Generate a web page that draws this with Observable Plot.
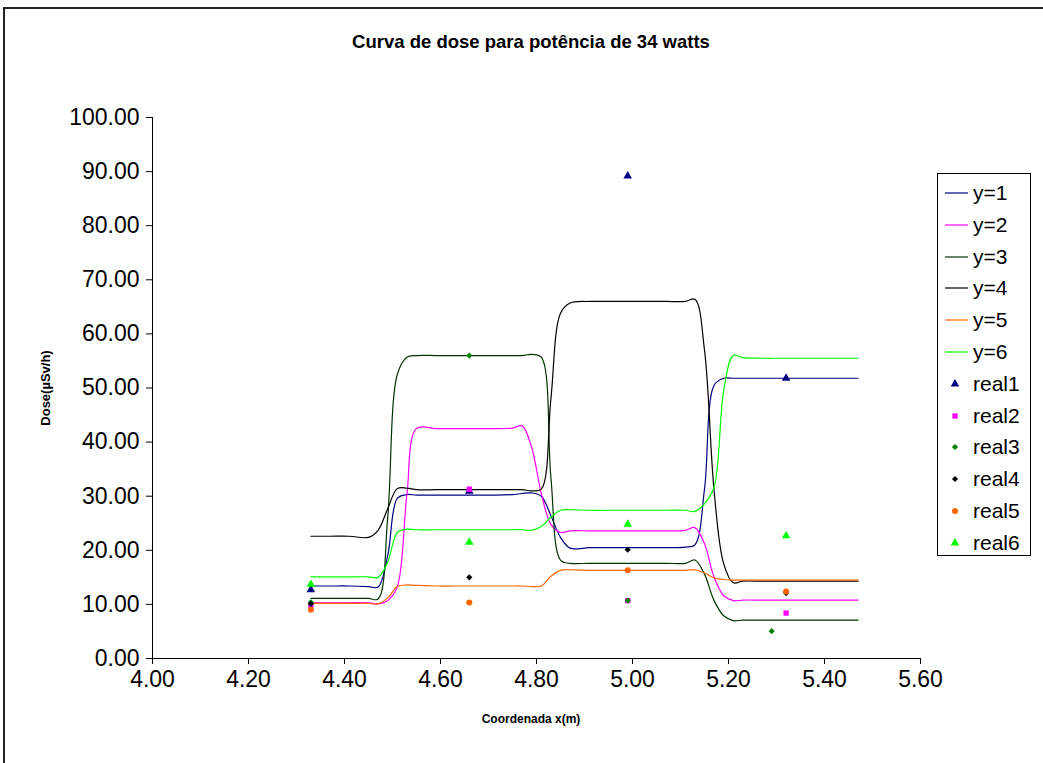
<!DOCTYPE html>
<html>
<head>
<meta charset="utf-8">
<script src="https://cdn.jsdelivr.net/npm/d3@7"></script>
<script src="https://cdn.jsdelivr.net/npm/@observablehq/plot@0.6"></script>
<style>
  html, body { margin: 0; padding: 0; background: #fff; }
  #wrap { position: relative; width: 1043px; height: 763px; overflow: hidden; background: #fff; font-family: "Liberation Sans", Arial, sans-serif; }
  #frame { position: absolute; left: 3px; top: 7px; width: 1200px; height: 900px; border: 2px solid #222; box-sizing: border-box; }
  #chart { position: absolute; left: 0; top: 0; }
  .title { position: absolute; left: 0; width: 1062px; top: 31px; text-align: center; font-weight: bold; font-size: 18.5px; color: #000; }
  .xlabel { position: absolute; left: 0; width: 1062px; top: 712px; text-align: center; font-weight: bold; font-size: 12px; color: #000; }
  .ylabel { position: absolute; left: 45px; top: 388px; transform: translate(-50%, -50%) rotate(-90deg); font-weight: bold; font-size: 13px; white-space: nowrap; color: #000; }
  #legend { position: absolute; left: 937px; top: 173px; width: 94px; height: 383px; border: 1px solid #000; box-sizing: border-box; background: #fff; }
  .lrow { position: absolute; left: 0; height: 24px; display: flex; align-items: center; }
  .lrow span { font-size: 21px; color: #000; margin-left: 4px; }
</style>
</head>
<body>
<div id="wrap">
  <div id="frame"></div>
  <div id="chart"></div>
  <div class="title">Curva de dose para potência de 34 watts</div>
  <div class="xlabel">Coordenada x(m)</div>
  <div class="ylabel">Dose(µSv/h)</div>
  <div id="legend"></div>
</div>
<script>
// ---- data ----
const xTicks = [4.0, 4.2, 4.4, 4.6, 4.8, 5.0, 5.2, 5.4, 5.6];
const yTicks = [0, 10, 20, 30, 40, 50, 60, 70, 80, 90, 100];

const xs = [4.33, 4.37, 4.41, 4.45, 4.47, 4.49, 4.51, 4.53, 4.55, 4.59, 4.63, 4.67, 4.71, 4.75,
            4.77, 4.79, 4.81, 4.83, 4.85, 4.87, 4.91, 4.95, 4.99, 5.03, 5.07, 5.11,
            5.13, 5.15, 5.17, 5.19, 5.21, 5.23, 5.27, 5.31, 5.35, 5.39, 5.43, 5.47];

const y1 = [13.4, 13.4, 13.4, 13.3, 13.2, 19.0, 29.6, 30.3, 30.2, 30.2, 30.2, 30.2, 30.2, 30.3,
            30.5, 30.6, 30.0, 26.4, 22.4, 20.4, 20.5, 20.5, 20.5, 20.5, 20.5, 20.6,
            21.0, 31.3, 50.5, 51.8, 51.8, 51.8, 51.8, 51.8, 51.8, 51.8, 51.8, 51.8];
const y2 = [10.3, 10.3, 10.3, 10.3, 10.1, 10.7, 13.3, 30.3, 42.5, 42.5, 42.5, 42.5, 42.5, 42.6,
            43.0, 39.0, 30.5, 24.8, 23.3, 23.6, 23.6, 23.6, 23.6, 23.6, 23.6, 23.7,
            24.2, 21.2, 15.0, 11.6, 10.7, 10.8, 10.8, 10.8, 10.8, 10.8, 10.8, 10.8];
const y3 = [11.1, 11.1, 11.1, 11.1, 11.0, 26.0, 52.5, 55.7, 56.0, 56.0, 56.0, 56.0, 56.0, 56.0,
            56.0, 56.2, 55.7, 33.5, 18.2, 17.6, 17.6, 17.6, 17.6, 17.6, 17.6, 17.6,
            18.2, 15.6, 10.7, 7.9, 7.0, 7.1, 7.1, 7.1, 7.1, 7.1, 7.1, 7.1];
const y4 = [22.6, 22.6, 22.6, 22.4, 23.7, 27.7, 31.4, 31.5, 31.2, 31.2, 31.2, 31.2, 31.2, 31.2,
            31.2, 31.0, 31.3, 48.0, 63.8, 65.7, 66.0, 66.0, 66.0, 66.0, 66.0, 66.0,
            66.4, 57.0, 31.0, 17.5, 14.0, 14.3, 14.3, 14.3, 14.3, 14.3, 14.3, 14.3];
const y5 = [10.2, 10.2, 10.2, 10.2, 10.1, 11.2, 13.3, 13.6, 13.5, 13.4, 13.4, 13.4, 13.4, 13.4,
            13.4, 13.3, 13.4, 15.2, 16.3, 16.4, 16.3, 16.3, 16.3, 16.3, 16.3, 16.3,
            16.4, 15.8, 14.9, 14.6, 14.5, 14.5, 14.5, 14.5, 14.5, 14.5, 14.5, 14.5];
const y6 = [15.1, 15.1, 15.1, 15.1, 15.0, 17.8, 23.3, 23.9, 23.8, 23.8, 23.8, 23.8, 23.8, 23.8,
            23.8, 23.7, 24.4, 26.1, 27.4, 27.5, 27.4, 27.4, 27.4, 27.4, 27.4, 27.4,
            27.2, 28.6, 31.7, 49.5, 56.0, 55.6, 55.5, 55.5, 55.5, 55.5, 55.5, 55.5];

const realX  = [4.33, 4.66, 4.99, 5.32];
const real3X = [4.33, 4.66, 4.99, 5.29];
const real1 = [12.7, 30.9, 89.2, 51.8];
const real2 = [9.6, 31.3, 10.7, 8.4];
const real3 = [10.4, 56.0, 10.7, 5.05];
const real4 = [10.1, 15.0, 20.1, 12.1];
const real5 = [9.0, 10.35, 16.3, 12.4];
const real6 = [13.7, 21.5, 24.8, 22.7];

// ---- series definitions (styles) ----
const lineSeries = [
  {name: "y=1", values: y1, color: "#000080"},
  {name: "y=2", values: y2, color: "#ff00ff"},
  {name: "y=3", values: y3, color: "#003300"},
  {name: "y=4", values: y4, color: "#000000"},
  {name: "y=5", values: y5, color: "#ff6600"},
  {name: "y=6", values: y6, color: "#00ff00"}
];
const pointSeries = [
  {name: "real1", x: realX,  values: real1, color: "#000080", symbol: "triangle", r: 3.2},
  {name: "real2", x: realX,  values: real2, color: "#ff00ff", symbol: "square",   r: 3.0},
  {name: "real3", x: real3X, values: real3, color: "#008000", symbol: "diamond2", r: 2.8},
  {name: "real4", x: realX,  values: real4, color: "#000000", symbol: "diamond2", r: 2.8},
  {name: "real5", x: realX,  values: real5, color: "#ff6600", symbol: "circle",   r: 3.0},
  {name: "real6", x: realX,  values: real6, color: "#00ff00", symbol: "triangle", r: 3.2}
];

const fmt = d => d.toFixed(2);

const marks = [
  Plot.ruleX([4], {y1: 0, y2: 100, stroke: "#000", strokeWidth: 1}),
  Plot.ruleY([0], {x1: 4, x2: 5.6, stroke: "#000", strokeWidth: 1}),
  Plot.axisX({ticks: xTicks, tickFormat: fmt, tickSize: 6, tickPadding: 6, fontSize: 23, label: null, anchor: "bottom"}),
  Plot.axisY({ticks: yTicks, tickFormat: fmt, tickSize: 6, tickPadding: 7, fontSize: 23, label: null, anchor: "left"})
];
for (const s of lineSeries) {
  const data = xs.map((x, i) => ({x, y: s.values[i]}));
  marks.push(Plot.line(data, {x: "x", y: "y", stroke: s.color, strokeWidth: 1.2, curve: "catmull-rom"}));
}
for (const s of pointSeries) {
  const data = s.x.map((x, i) => ({x, y: s.values[i]}));
  marks.push(Plot.dot(data, {x: "x", y: "y", fill: s.color, stroke: "none", symbol: s.symbol, r: s.r}));
}

const chart = Plot.plot({
  width: 1043,
  height: 763,
  marginLeft: 152,
  marginRight: 123,
  marginTop: 117,
  marginBottom: 105,
  style: {fontFamily: "'Liberation Sans', Arial, sans-serif", background: "transparent", color: "#000", overflow: "visible"},
  x: {domain: [4, 5.6]},
  y: {domain: [0, 100]},
  marks
});
document.getElementById("chart").appendChild(chart);

// ---- legend ----
const legend = document.getElementById("legend");
const entries = [...lineSeries.map(s => ({...s, kind: "line"})), ...pointSeries.map(s => ({...s, kind: "dot"}))];
entries.forEach((e, k) => {
  const row = document.createElement("div");
  row.className = "lrow";
  row.style.top = (20 + k * 31.8 - 12 - 1) + "px";
  const svg = d3.create("svg").attr("width", 31).attr("height", 24);
  if (e.kind === "line") {
    svg.append("line").attr("x1", 7).attr("x2", 30).attr("y1", 12).attr("y2", 12)
      .attr("stroke", e.color).attr("stroke-width", 1.2);
  } else {
    const symMap = {triangle: d3.symbolTriangle, square: d3.symbolSquare, diamond2: d3.symbolDiamond2, circle: d3.symbolCircle};
    svg.append("path").attr("transform", "translate(17,12)")
      .attr("d", d3.symbol(symMap[e.symbol], Math.PI * e.r * e.r)())
      .attr("fill", e.color);
  }
  row.appendChild(svg.node());
  const span = document.createElement("span");
  span.textContent = e.name;
  row.appendChild(span);
  legend.appendChild(row);
});
</script>
</body>
</html>
